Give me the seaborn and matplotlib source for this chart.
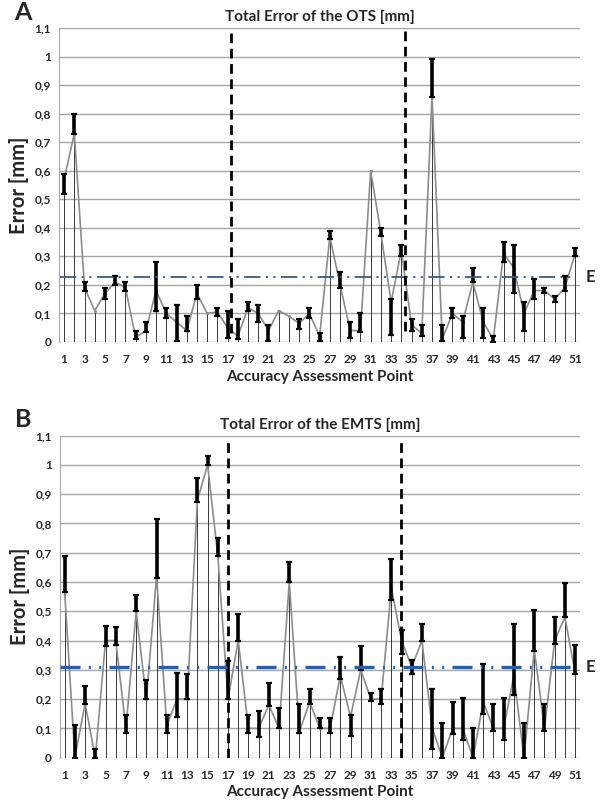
import numpy as np
import pandas as pd
import matplotlib
matplotlib.use("Agg")
import matplotlib.pyplot as plt
import seaborn as sns

points = list(range(1, 52))

# panel A - OTS: line value, error bar bottom and top
ots_val = [0.57, 0.73, 0.19, 0.11, 0.17, 0.21, 0.19, 0.015, 0.04, 0.18,
           0.10, 0.07, 0.04, 0.17, 0.10, 0.105, 0.05, 0.02, 0.12, 0.10,
           0.04, 0.11, 0.09, 0.065, 0.10, 0.02, 0.37, 0.20, 0.04, 0.04,
           0.60, 0.38, 0.14, 0.32, 0.06, 0.03, 0.86, 0.01, 0.10, 0.07,
           0.21, 0.07, 0.01, 0.31, 0.26, 0.10, 0.18, 0.18, 0.15, 0.19, 0.31]
ots_lo = [0.52, 0.73, 0.18, None, 0.15, 0.20, 0.18, 0.01, 0.035, 0.11,
          0.085, 0.005, 0.04, 0.15, None, 0.09, 0.015, 0.01, 0.11, 0.07,
          0.005, None, None, 0.045, 0.085, 0.005, 0.36, 0.19, 0.015, 0.035,
          None, 0.37, 0.025, 0.30, 0.04, 0.02, 0.86, 0.005, 0.085, 0.015,
          0.21, 0.015, 0.0, 0.28, 0.17, 0.04, 0.15, 0.17, 0.14, 0.18, 0.30]
ots_hi = [0.59, 0.80, 0.21, None, 0.19, 0.23, 0.21, 0.04, 0.07, 0.28,
          0.12, 0.13, 0.09, 0.20, None, 0.12, 0.11, 0.08, 0.14, 0.13,
          0.06, None, None, 0.08, 0.12, 0.03, 0.39, 0.245, 0.07, 0.10,
          None, 0.40, 0.15, 0.34, 0.08, 0.06, 0.99, 0.06, 0.12, 0.09,
          0.26, 0.12, 0.02, 0.35, 0.34, 0.14, 0.22, 0.19, 0.16, 0.23, 0.33]

# panel B - EMTS
emts_val = [0.565, 0.0, 0.185, 0.0, 0.40, 0.40, 0.10, 0.50, 0.20, 0.62,
            0.11, 0.20, 0.20, 0.88, 1.0, 0.69, 0.20, 0.40, 0.10, 0.10,
            0.18, 0.10, 0.60, 0.09, 0.19, 0.10, 0.10, 0.28, 0.14, 0.30,
            0.20, 0.20, 0.58, 0.40, 0.31, 0.40, 0.10, 0.0, 0.10, 0.10,
            0.0, 0.19, 0.10, 0.10, 0.28, 0.0, 0.37, 0.10, 0.40, 0.48, 0.29]
emts_lo = [0.565, 0.0, 0.185, 0.0, 0.38, 0.385, 0.085, 0.50, 0.20, 0.615,
           0.085, 0.14, 0.20, 0.875, 1.0, 0.69, 0.20, 0.40, 0.085, 0.07,
           0.175, 0.10, 0.60, 0.085, 0.185, 0.10, 0.085, 0.27, 0.075, 0.30,
           0.195, 0.185, 0.54, 0.355, 0.285, 0.40, 0.03, 0.0, 0.08, 0.06,
           0.0, 0.15, 0.09, 0.06, 0.215, 0.0, 0.365, 0.09, 0.39, 0.48, 0.285]
emts_hi = [0.69, 0.11, 0.245, 0.03, 0.45, 0.445, 0.145, 0.555, 0.265, 0.815,
           0.145, 0.29, 0.285, 0.955, 1.03, 0.75, 0.33, 0.49, 0.145, 0.16,
           0.255, 0.17, 0.67, 0.185, 0.235, 0.135, 0.135, 0.345, 0.145, 0.38,
           0.22, 0.235, 0.68, 0.435, 0.335, 0.455, 0.235, 0.12, 0.19, 0.205,
           0.10, 0.32, 0.185, 0.205, 0.455, 0.12, 0.505, 0.185, 0.48, 0.595, 0.385]

ots_mean = 0.228
emts_mean = 0.309
yticks = [0, 0.1, 0.2, 0.3, 0.4, 0.5, 0.6, 0.7, 0.8, 0.9, 1.0, 1.1]
ytick_labels = ["0", "0,1", "0,2", "0,3", "0,4", "0,5", "0,6", "0,7", "0,8", "0,9", "1", "1,1"]

sns.set_style("white")
plt.rcParams['font.family'] = ['Lato', 'DejaVu Sans']

fig = plt.figure(figsize=(6, 8.05), dpi=100)


def draw_panel(rect, letter, title, val, lo, hi, mean, split, mean_style):
    ax = fig.add_axes(rect)
    df = pd.DataFrame({'point': points, 'error': val})

    # grid lines
    for t in yticks:
        ax.axhline(t, color='#a6a6a6', lw=1.0, zorder=0)

    # drop lines
    ax.vlines(df['point'], 0, df['error'], color='#1a1a1a', lw=0.6, zorder=1)

    sns.lineplot(data=df, x='point', y='error', ax=ax, color='#8c8c8c', lw=1.2,
                 marker='o', markersize=2.2, markeredgewidth=0, zorder=3)

    # error bars (only where present)
    ex, ey, elo, ehi = [], [], [], []
    for p, v, l, h in zip(points, val, lo, hi):
        if l is None:
            continue
        ex.append(p)
        ey.append(v)
        elo.append(max(v - l, 0))
        ehi.append(max(h - v, 0))
    ax.errorbar(ex, ey, yerr=[elo, ehi], fmt='none', ecolor='black',
                elinewidth=2.6, capsize=2.0, capthick=1.6, zorder=4)

    # mean line
    ax.plot([0.55, 51.05], [mean, mean], color=mean_style['color'],
            lw=mean_style['lw'], dashes=mean_style['dashes'], zorder=5)
    ax.text(52.0, mean, "E", fontsize=12, fontweight='bold', va='center',
            ha='left', clip_on=False)

    # group separators
    for s, y0 in split:
        ax.plot([s, s], [y0, 1.09], color='black', lw=2.0, dashes=(3.5, 2.0), zorder=6)

    ax.set_xlim(0.54, 51.5)
    ax.set_ylim(0, 1.1)
    ax.set_xticks(points[::2])
    ax.set_xticklabels([str(p) for p in points[::2]], fontsize=8.5,
                       fontweight='bold', color='#262626')
    ax.set_yticks(yticks)
    ax.set_yticklabels(ytick_labels, fontsize=8.5, fontweight='bold', color='#262626')
    ax.tick_params(axis='both', length=0, pad=6)
    ax.tick_params(axis='x', pad=9)
    for side in ['top', 'right', 'bottom']:
        ax.spines[side].set_visible(False)
    ax.spines['left'].set_color('#a6a6a6')
    ax.set_xlabel("Accuracy Assessment Point", fontsize=11, fontweight='bold', labelpad=3)
    ax.set_ylabel("Error [mm]", fontsize=14.5, fontweight='bold', labelpad=4)
    ax.set_title(title, fontsize=11, fontweight='bold', pad=5)
    ax.text(-0.07, 1.05, letter, transform=ax.transAxes, fontsize=18,
            fontweight='bold', ha='center', va='center')
    return ax


draw_panel([0.099, 0.5752, 0.868, 0.39], "A", "Total Error of the OTS [mm]",
           ots_val, ots_lo, ots_hi, ots_mean, [(17.3, 0.03), (34.4, 0.04)],
           {'color': '#3b5b86', 'lw': 1.3, 'dashes': (9, 3, 1.2, 3, 1.2, 3)})
draw_panel([0.100, 0.0588, 0.867, 0.40], "B", "Total Error of the EMTS [mm]",
           emts_val, emts_lo, emts_hi, emts_mean, [(17.0, 0.0), (33.9, 0.0)],
           {'color': '#2a5ea8', 'lw': 2.4, 'dashes': (6, 2.5, 0.6, 2.5, 0.6, 2.5)})

fig.savefig("out.png", dpi=100)
